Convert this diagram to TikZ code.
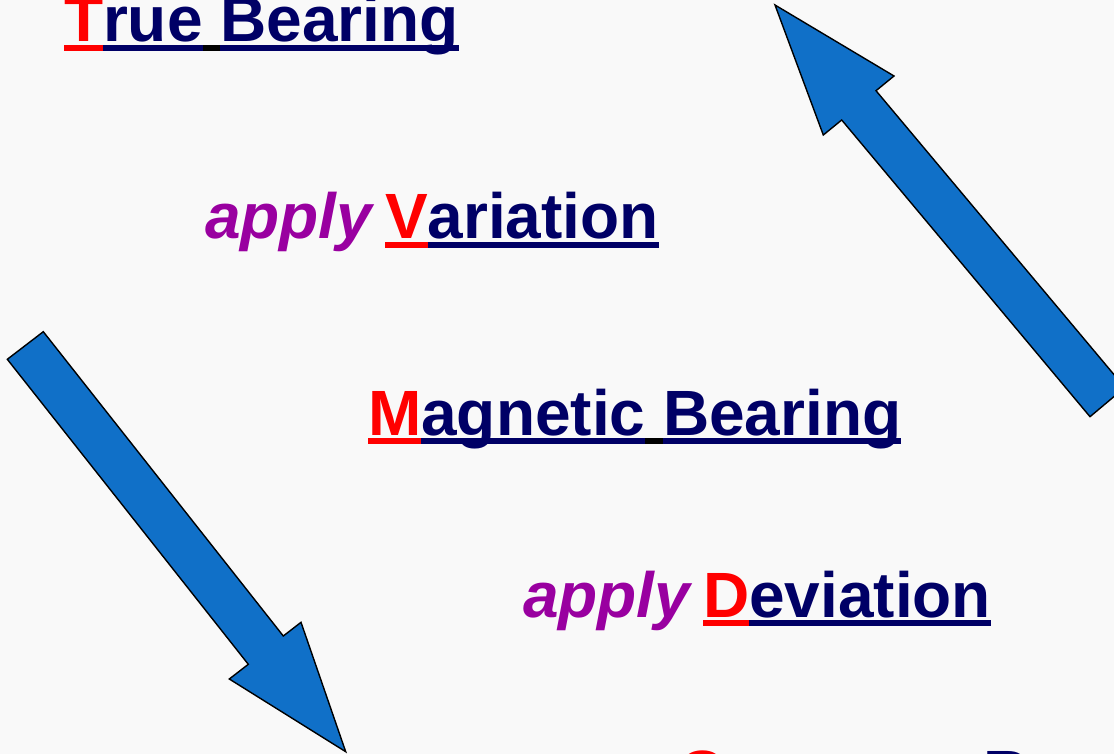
\documentclass[tikz,border=0pt]{standalone}
\usepackage{fontspec}
\setmainfont{Liberation Sans}
\definecolor{navyt}{RGB}{0,0,102}
\definecolor{redt}{RGB}{255,0,0}
\definecolor{purpt}{RGB}{153,0,160}
\definecolor{arrowblue}{RGB}{16,112,200}
\definecolor{bgc}{RGB}{249,249,249}
\newcommand\ulpart[2]{\setbox0\hbox{#2}\rlap{\color{#1}\rule[-9pt]{\wd0}{6pt}}\box0}
\newcommand\bigfont{\fontsize{64}{70}\selectfont\bfseries}
\tikzset{
  label text/.style={anchor=base west, inner sep=0pt, outer sep=0pt, font=\bigfont},
  apply text/.style={anchor=base west, inner sep=0pt, outer sep=0pt, font=\bigfont\itshape, text=purpt},
  bluearrow/.style={fill=arrowblue, draw=black, line width=1.4pt, line join=miter}
}
\begin{document}
\begin{tikzpicture}[x=1pt,y=-1pt]
\useasboundingbox (0,0) rectangle (1114,754);
\fill[bgc] (0,0) rectangle (1114,754);
\clip (0,0) rectangle (1114,754);
% arrows
\draw[bluearrow] (43.3,331.7) -- (7.3,359.3) -- (248.3,664.3) -- (229.3,679) -- (345.7,751.7) -- (301,622.3) -- (283.3,636) -- cycle;
\draw[bluearrow] (775,5) -- (894,76) -- (876,90.7) -- (1124.8,387.5) -- (1090,416.7) -- (841.7,120) -- (823.3,135) -- cycle;
% texts
\node[label text] (tb) at (64,42) {\ulpart{redt}{\color{redt}T}\ulpart{navyt}{\color{navyt}rue}\ulpart{black}{\ }\ulpart{navyt}{\color{navyt}Bearing}};
\node[apply text] (ap1) at (205,239) {apply};
\node[label text] (var) at (385,239) {\ulpart{redt}{\color{redt}V}\ulpart{navyt}{\color{navyt}ariation}};
\node[label text] (mb) at (368,435) {\ulpart{redt}{\color{redt}M}\ulpart{navyt}{\color{navyt}agnetic}\ulpart{black}{\ }\ulpart{navyt}{\color{navyt}Bearing}};
\node[apply text] (ap2) at (523,617) {apply};
\node[label text] (dev) at (703,617) {\ulpart{redt}{\color{redt}D}\ulpart{navyt}{\color{navyt}eviation}};
\node[label text] (cb) at (678,795) {\ulpart{redt}{\color{redt}C}\ulpart{navyt}{\color{navyt}ompass}\ulpart{black}{\ }\ulpart{navyt}{\color{navyt}Bearing}};
\end{tikzpicture}
\end{document}
